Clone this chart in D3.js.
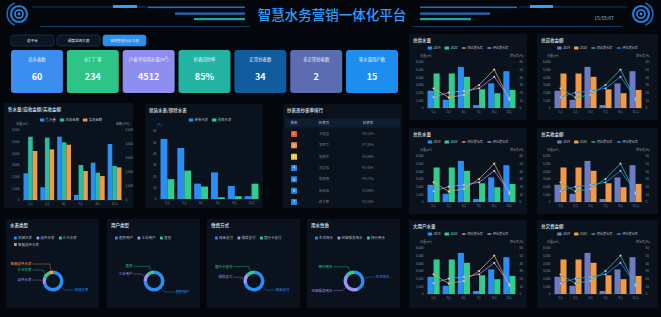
<!DOCTYPE html>
<html>
<head>
<meta charset="utf-8">
<script src="https://cdn.jsdelivr.net/npm/d3@7"></script>
<style>
  html, body { margin: 0; padding: 0; background: #03070c; overflow: hidden; }
  svg { display: block; font-family: "Noto Sans CJK SC", "Noto Sans", sans-serif; }
</style>
</head>
<body>
<svg id="screen" width="661" height="317"></svg>
<script>
// ---- data ----
const PAGE_TITLE = '智慧水务营销一体化平台';
const CLOCK = '15:55:07';
const TABS = ['总平台', '调度监测大屏', '营销管理分析大屏'];

const KPI_NAMES  = ['总水表数', '水厂厂家', '户表平均用水量(m³)', '抄表回抄率', '正常抄表数', '非正常抄表数', '零水量用户数'];
const KPI_VALUES = ['60', '234', '4512', '85%', '34', '2', '15'];
const KPI_COLORS = ['#3b8ef0', '#2fc487', '#8e8ef0', '#22b3a2', '#0f5c9e', '#5b6db0', '#1d8ef0'];

const MONTHS = ['1月', '2月', '3月', '7月', '8月', '11月'];

// 售水量 / 应收金额 / 实收金额
const SALE_WATER = [2290, 1090, 5430, 430, 3200, 4800];
const RECEIVABLE = [4520, 4450, 4120, 2500, 1950, 2430];
const RECEIVED   = [3500, 3620, 3950, 2070, 1710, 2330];

// 新装水表 / 拆除水表
const METER_NEW     = [53, 45, 13.5, 23.5, 11.5, 2.5];
const METER_REMOVED = [17.5, 25, 11, 1.5, 2.5, 13.5];

// 抄表员抄表率排行
const RANK_NAMES = ['王建国', '李明华', '张晓东', '刘志强', '陈丽娟', '杨海涛', '赵文静'];
const RANK_RATES = ['98.12%', '97.35%', '96.80%', '95.42%', '94.17%', '93.06%', '92.33%'];

// right-hand comparison charts (same series in every card)
const CARD_TITLES = ['总供水量', '总应收金额', '总售水量', '总实收金额', '大用户水量', '总欠费金额'];
const YEAR_2019 = [2250, 1070, 5360, 390, 3210, 4800];
const YEAR_2020 = [4500, 4500, 4070, 2440, 1930, 2360];
const YOY_RATE  = [25.7, 13.7, 17.1, 30, 50.1, 10.7];
const MOM_RATE  = [14.1, 20.1, 22.3, 25.7, 40.7, 12.9];

// donuts
const METER_TYPES  = ['机械水表', '远传水表', 'IC卡水表', '智能远传水表'];
const METER_SHARE  = [70, 12, 11, 7];
const USER_TYPES   = ['居民用户', '工业用户', '其他'];
const USER_SHARE   = [75, 15, 10];
const PAY_TYPES    = ['现金支付', '微信支付', '银行卡支付'];
const PAY_SHARE    = [70, 18, 12];
const USAGE_TYPES  = ['生活用水', '经营服务用水', '特行用水'];
const USAGE_SHARE  = [42, 45, 13];

const C = {
  blue: '#2a8ef5', green: '#32cc8c', orange: '#f39a44', purple: '#9a94f0',
  teal: '#2bbaa4', slate: '#6b7bc4', panel: '#0a131d', tick: '#8492a4',
  grid: '#172230', text: '#dfe7f1', legend: '#b3bfcd'
};

const svg = d3.select('#screen');
svg.append('rect').attr('width', 661).attr('height', 317).attr('fill', '#03070c');

// ---- header ----
const head = svg.append('g');

function ringIcon(cx, cy, side) {
  const g = head.append('g').attr('transform', `translate(${cx},${cy})`);
  const a0 = side < 0 ? Math.PI * 1.12 : Math.PI * 0.12;
  g.append('path')
    .attr('d', d3.arc()({ innerRadius: 11, outerRadius: 12.6, startAngle: a0, endAngle: a0 + Math.PI * 0.76 }))
    .attr('fill', '#1a6cc0');
  g.append('circle').attr('r', 8).attr('fill', 'none').attr('stroke', '#1f7fdc').attr('stroke-width', 2.2);
  g.append('circle').attr('r', 4).attr('fill', 'none').attr('stroke', '#2a90f0').attr('stroke-width', 1.6);
  g.append('circle').attr('r', 1.4).attr('fill', '#2a90f0');
}
ringIcon(19, 14, -1);
ringIcon(641, 14, 1);

head.append('line').attr('x1', 32).attr('x2', 148).attr('y1', 7).attr('y2', 7).attr('stroke', '#174f86').attr('stroke-width', 0.7);
head.append('line').attr('x1', 519).attr('x2', 628).attr('y1', 7).attr('y2', 7).attr('stroke', '#174f86').attr('stroke-width', 0.7);
head.append('rect').attr('x', 113).attr('y', 5).attr('width', 24).attr('height', 3).attr('fill', '#2aa0ff');
head.append('rect').attr('x', 530).attr('y', 5).attr('width', 23).attr('height', 3).attr('fill', '#2aa0ff');
head.append('line').attr('x1', 40).attr('x2', 250).attr('y1', 26.5).attr('y2', 26.5).attr('stroke', '#174f86').attr('stroke-width', 0.7);
head.append('line').attr('x1', 412).attr('x2', 622).attr('y1', 26.5).attr('y2', 26.5).attr('stroke', '#174f86').attr('stroke-width', 0.7);

const STRIPES = [
  { y: 6.5, len: 97, h: 1.6, color: '#1f6ec4' },
  { y: 12.5, len: 70, h: 2.2, color: '#1f6ec4' },
  { y: 18, len: 51, h: 2.2, color: '#1aa3a6' },
];
STRIPES.forEach(s => {
  head.append('rect').attr('x', 245 - s.len).attr('y', s.y).attr('width', s.len).attr('height', s.h).attr('fill', s.color);
  head.append('rect').attr('x', 420).attr('y', s.y).attr('width', s.len).attr('height', s.h).attr('fill', s.color);
});

head.append('text').attr('x', 332).attr('y', 15).attr('dy', '0.36em')
  .attr('text-anchor', 'middle').attr('font-size', 13.5).attr('font-weight', 500)
  .attr('fill', '#2f9cff').text(PAGE_TITLE);
head.append('text').attr('x', 604).attr('y', 18.5).attr('dy', '0.35em')
  .attr('text-anchor', 'middle').attr('font-size', 5).attr('fill', '#9eb1c6').text(CLOCK);

// ---- tabs ----
TABS.forEach((t, i) => {
  const x = 11 + i * 46;
  const active = i === 2;
  svg.append('rect').attr('x', x).attr('y', 35).attr('width', 43).attr('height', 11).attr('rx', 2.5)
    .attr('fill', active ? '#2b8ff0' : '#0a1624')
    .attr('stroke', active ? '#2b8ff0' : '#23405f').attr('stroke-width', 0.6);
  svg.append('text').attr('x', x + 21.5).attr('y', 40.5).attr('dy', '0.35em').attr('text-anchor', 'middle')
    .attr('font-size', 3.6).attr('fill', '#e4ecf6').text(t);
});

// ---- KPI cards ----
const kpiX = d3.scaleBand().domain(d3.range(KPI_NAMES.length)).range([11, 398]).paddingInner(0.07);
KPI_NAMES.forEach((name, i) => {
  const x = kpiX(i), w = kpiX.bandwidth();
  svg.append('rect').attr('x', x).attr('y', 50).attr('width', w).attr('height', 43).attr('rx', 3).attr('fill', KPI_COLORS[i]);
  svg.append('text').attr('x', x + w / 2).attr('y', 59).attr('dy', '0.35em').attr('text-anchor', 'middle')
    .attr('font-size', 4.4).attr('fill', '#eef4fb').text(name);
  svg.append('text').attr('x', x + w / 2).attr('y', 77).attr('dy', '0.36em').attr('text-anchor', 'middle')
    .attr('font-size', 9).attr('font-weight', 700).attr('fill', '#ffffff').text(KPI_VALUES[i]);
});

// ---- helpers ----
function panel(x, y, w, h, title) {
  const g = svg.append('g');
  g.append('rect').attr('x', x).attr('y', y).attr('width', w).attr('height', h).attr('fill', C.panel);
  g.append('text').attr('x', x + 4).attr('y', y + 6.5).attr('dy', '0.35em')
    .attr('font-size', 4.5).attr('font-weight', 500).attr('fill', C.text).text(title);
  return g;
}

// centered legend row; items: {name, color, line}
function legend(g, items, cx, y, fs) {
  const lg = g.append('g');
  let x = 0;
  items.forEach(it => {
    if (it.line) {
      lg.append('line').attr('x1', x).attr('x2', x + 5).attr('y1', y).attr('y2', y).attr('stroke', it.color).attr('stroke-width', 0.7);
      lg.append('circle').attr('cx', x + 2.5).attr('cy', y).attr('r', 0.9).attr('fill', it.color);
    } else {
      lg.append('rect').attr('x', x).attr('y', y - 1.5).attr('width', 4.5).attr('height', 3).attr('rx', 0.5).attr('fill', it.color);
    }
    const t = lg.append('text').attr('x', x + 6).attr('y', y).attr('dy', '0.35em')
      .attr('font-size', fs).attr('fill', C.legend).text(it.name);
    x += 6 + t.node().getComputedTextLength() + 4;
  });
  lg.attr('transform', `translate(${cx - (x - 4) / 2},0)`);
}

// left-aligned, wrapping legend for the donut cards
function legendWrap(g, names, colors, x0, y0, maxX) {
  let x = x0, y = y0;
  names.forEach((n, i) => {
    const item = g.append('g');
    item.append('rect').attr('x', 0).attr('y', -1.4).attr('width', 2.8).attr('height', 2.8).attr('rx', 0.6).attr('fill', colors[i]);
    const t = item.append('text').attr('x', 4).attr('dy', '0.35em').attr('font-size', 3.5).attr('fill', C.legend).text(n);
    const w = 4 + t.node().getComputedTextLength();
    if (x + w > maxX && x > x0) { x = x0; y += 6.5; }
    item.attr('transform', `translate(${x},${y})`);
    x += w + 4.5;
  });
}

// grouped bars on a left axis, optional bars/lines on a right axis
function combo(g, o) {
  const x = d3.scaleBand().domain(MONTHS).range([o.left, o.right]).paddingInner(o.pad).paddingOuter(o.pad / 2);
  const yL = d3.scaleLinear().domain([0, o.leftMax]).range([o.bottom, o.top]);
  const yR = d3.scaleLinear().domain([0, o.rightMax || o.leftMax]).range([o.bottom, o.top]);

  g.append('g').selectAll('line').data(yL.ticks(o.leftTicks).slice(1)).join('line')
    .attr('x1', o.left).attr('x2', o.right).attr('y1', d => yL(d)).attr('y2', d => yL(d))
    .attr('stroke', C.grid).attr('stroke-width', 0.4).attr('stroke-dasharray', '1.5,1');
  g.append('line').attr('x1', o.left).attr('x2', o.right).attr('y1', o.bottom).attr('y2', o.bottom)
    .attr('stroke', '#3a4a5e').attr('stroke-width', 0.5);

  const axL = g.append('g').attr('transform', `translate(${o.left},0)`)
    .call(d3.axisLeft(yL).ticks(o.leftTicks).tickSize(0).tickPadding(2.5));
  if (o.rightMax) {
    g.append('g').attr('transform', `translate(${o.right},0)`)
      .call(d3.axisRight(yR).ticks(o.rightTicks).tickSize(0).tickPadding(2.5));
  }
  g.append('g').attr('transform', `translate(0,${o.bottom})`)
    .call(d3.axisBottom(x).tickSize(0).tickPadding(3));
  g.selectAll('.domain').remove();
  g.selectAll('.tick text').attr('font-size', 3).attr('fill', C.tick).attr('font-family', null);

  if (o.leftLabel) g.append('text').attr('x', o.left).attr('y', o.top - 6).attr('dy', '0.35em').attr('text-anchor', 'middle')
    .attr('font-size', 3).attr('fill', C.tick).text(o.leftLabel);
  if (o.rightLabel) g.append('text').attr('x', o.right).attr('y', o.top - 6).attr('dy', '0.35em').attr('text-anchor', 'middle')
    .attr('font-size', 3).attr('fill', C.tick).text(o.rightLabel);

  const inner = d3.scaleBand().domain(d3.range(o.bars.length)).range([0, x.bandwidth()]);
  o.bars.forEach((b, bi) => {
    const ys = b.right ? yR : yL;
    g.append('g').selectAll('rect').data(b.values).join('rect')
      .attr('x', (d, i) => x(MONTHS[i]) + inner(bi))
      .attr('y', d => ys(d))
      .attr('width', inner.bandwidth())
      .attr('height', d => o.bottom - ys(d))
      .attr('fill', b.color);
  });

  (o.lines || []).forEach(l => {
    const line = d3.line().x((d, i) => x(MONTHS[i]) + x.bandwidth() / 2).y(d => yR(d));
    g.append('path').attr('d', line(l.values)).attr('fill', 'none').attr('stroke', l.color).attr('stroke-width', 0.8);
    g.append('g').selectAll('circle').data(l.values).join('circle')
      .attr('cx', (d, i) => x(MONTHS[i]) + x.bandwidth() / 2).attr('cy', d => yR(d))
      .attr('r', 0.9).attr('fill', '#dfe9f5').attr('stroke', l.color).attr('stroke-width', 0.4);
  });
}

function donut(g, cx, cy, names, values, colors) {
  const r = 10.5, ri = 7;
  const arcs = d3.pie().sort(null)(values);
  const arc = d3.arc().innerRadius(ri).outerRadius(r);
  const dg = g.append('g').attr('transform', `translate(${cx},${cy})`);
  dg.selectAll('path').data(arcs).join('path').attr('d', arc).attr('fill', (d, i) => colors[i]);

  // label layout: leader out from mid-angle, then horizontal; keep labels apart per side
  const labels = arcs.map((a, i) => {
    const m = (a.startAngle + a.endAngle) / 2;
    const side = Math.sin(m) >= 0 ? 1 : -1;
    return { i, m, side, y: -Math.cos(m) * (r + 5) };
  });
  [1, -1].forEach(side => {
    const ls = labels.filter(l => l.side === side).sort((a, b) => b.y - a.y);
    for (let k = 1; k < ls.length; k++) {
      if (ls[k - 1].y - ls[k].y < 6) ls[k].y = ls[k - 1].y - 6;
    }
  });
  labels.forEach(l => {
    const sx = Math.sin(l.m) * (r + 0.5), sy = -Math.cos(l.m) * (r + 0.5);
    const bx = Math.sin(l.m) * (r + 4);
    const ex = l.side * (r + 10);
    dg.append('path').attr('d', `M${sx},${sy}L${bx},${l.y}L${ex},${l.y}`)
      .attr('fill', 'none').attr('stroke', colors[l.i]).attr('stroke-width', 0.4);
    dg.append('text').attr('x', ex + l.side * 1).attr('y', l.y).attr('dy', '0.35em')
      .attr('text-anchor', l.side > 0 ? 'start' : 'end')
      .attr('font-size', 3.5).attr('fill', colors[l.i]).text(names[l.i]);
  });
}

// ---- 售水量/应收金额/实收金额 ----
const pA = panel(4, 103, 129, 105, '售水量/应收金额/实收金额');
legend(pA, [
  { name: '售水量', color: C.blue }, { name: '应收金额', color: C.teal }, { name: '实收金额', color: C.orange }
], 71, 120, 3.3);
combo(pA, {
  left: 22, right: 123, top: 130, bottom: 200, pad: 0.18,
  leftMax: 6000, leftTicks: 6, rightMax: 5000, rightTicks: 5,
  leftLabel: '水量(m³)', rightLabel: '金额(万元)',
  bars: [
    { values: SALE_WATER, color: C.blue },
    { values: RECEIVABLE, color: C.teal, right: true },
    { values: RECEIVED, color: C.orange, right: true },
  ],
});

// ---- 新装水表/拆除水表 ----
const pB = panel(145, 104, 118, 104, '新装水表/拆除水表');
legend(pB, [{ name: '新装水表', color: C.blue }, { name: '拆除水表', color: C.green }], 210, 120, 3.3);
combo(pB, {
  left: 159, right: 260, top: 131, bottom: 199, pad: 0.18,
  leftMax: 60, leftTicks: 6, leftLabel: '(个)',
  bars: [{ values: METER_NEW, color: C.blue }, { values: METER_REMOVED, color: C.green }],
});

// ---- 抄表员抄表率排行 ----
const pC = panel(283, 104, 119, 104, '抄表员抄表率排行');
pC.append('rect').attr('x', 285).attr('y', 118.5).attr('width', 115).attr('height', 9).attr('fill', '#0f1e2e');
[['排名', 294], ['抄表员', 324], ['抄表率', 368]].forEach(([t, x]) => {
  pC.append('text').attr('x', x).attr('y', 123).attr('dy', '0.35em').attr('text-anchor', 'middle')
    .attr('font-size', 3.5).attr('fill', '#c8d3e0').text(t);
});
const RANK_COLORS = ['#e4572e', '#f08c42', '#f4c542', '#1e88e5', '#1e88e5', '#1e88e5', '#1e88e5'];
const rowY = d3.scalePoint().domain(d3.range(RANK_NAMES.length)).range([134, 202]);
RANK_NAMES.forEach((n, i) => {
  const y = rowY(i);
  pC.append('rect').attr('x', 291).attr('y', y - 3).attr('width', 6).attr('height', 6).attr('rx', 0.5).attr('fill', RANK_COLORS[i]);
  pC.append('text').attr('x', 294).attr('y', y).attr('dy', '0.35em').attr('text-anchor', 'middle')
    .attr('font-size', 3.6).attr('fill', '#fff').text(i + 1);
  pC.append('text').attr('x', 324).attr('y', y).attr('dy', '0.35em').attr('text-anchor', 'middle')
    .attr('font-size', 3.3).attr('fill', '#6e7c8d').text(n);
  pC.append('text').attr('x', 368).attr('y', y).attr('dy', '0.35em').attr('text-anchor', 'middle')
    .attr('font-size', 3.3).attr('fill', '#6e7c8d').text(RANK_RATES[i]);
});

// ---- right-hand comparison cards ----
const CARD_ROWS = [34, 128, 220];
const CARD_COLS = [
  { x: 409, w: 118, plot: [426, 517], bar: [C.blue, C.green], line: [C.orange, C.purple] },
  { x: 537, w: 121, plot: [553, 643], bar: [C.slate, C.orange], line: [C.teal, C.blue] },
];
CARD_TITLES.forEach((title, i) => {
  const col = CARD_COLS[i % 2], y0 = CARD_ROWS[Math.floor(i / 2)];
  const g = panel(col.x, y0, col.w, i >= 4 ? 88 : 86, title);
  legend(g, [
    { name: '2019', color: col.bar[0] }, { name: '2020', color: col.bar[1] },
    { name: '同比增长率', color: col.line[0], line: true }, { name: '环比增长率', color: col.line[1], line: true },
  ], col.x + col.w / 2, y0 + 14, 3.1);
  combo(g, {
    left: col.plot[0], right: col.plot[1], top: y0 + 28, bottom: y0 + 74, pad: 0.2,
    leftMax: 6000, leftTicks: 6, rightMax: 60, rightTicks: 6,
    leftLabel: '水量(m³)', rightLabel: '增长率(%)',
    bars: [{ values: YEAR_2019, color: col.bar[0] }, { values: YEAR_2020, color: col.bar[1] }],
    lines: [{ values: YOY_RATE, color: col.line[0] }, { values: MOM_RATE, color: col.line[1] }],
  });
});

// ---- donut cards ----
const DONUTS = [
  { x: 6, title: '水表类型', names: METER_TYPES, values: METER_SHARE, colors: [C.blue, C.purple, C.green, C.orange] },
  { x: 107, title: '用户类型', names: USER_TYPES, values: USER_SHARE, colors: [C.blue, C.purple, C.green] },
  { x: 207, title: '缴费方式', names: PAY_TYPES, values: PAY_SHARE, colors: [C.blue, C.purple, C.green] },
  { x: 307, title: '用水性质', names: USAGE_TYPES, values: USAGE_SHARE, colors: [C.blue, C.purple, C.green] },
];
DONUTS.forEach(d => {
  const g = panel(d.x, 219, 93, 89, d.title);
  legendWrap(g, d.names, d.colors, d.x + 8, 238, d.x + 92);
  donut(g, d.x + 47, 281, d.names, d.values, d.colors);
});
</script>
</body>
</html>
